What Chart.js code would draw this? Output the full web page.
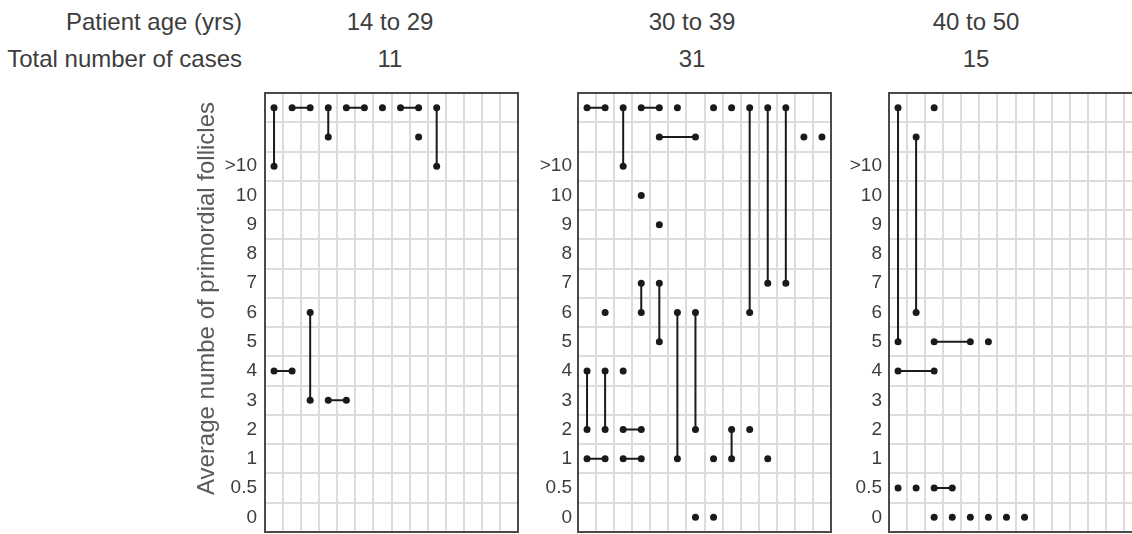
<!DOCTYPE html>
<html>
<head>
<meta charset="utf-8">
<script src="https://cdn.jsdelivr.net/npm/chart.js@4.4.1/dist/chart.umd.min.js"></script>
<style>
    html, body { margin: 0; padding: 0; background: #fff; overflow: hidden; }
    body { width: 1132px; height: 534px; position: relative; font-family: 'Liberation Sans', Arial, Helvetica, sans-serif; color: #3d3d3d; }
    .hdr { position: absolute; font-size: 24px; line-height: 26px; white-space: nowrap; }
    .lbl { right: 890px; text-align: right; }
    .val { width: 200px; margin-left: -100px; text-align: center; }
    canvas { position: absolute; }
</style>
</head>
<body>
<div class="hdr lbl" style="top:9px">Patient age (yrs)</div>
<div class="hdr lbl" style="top:46px">Total number of cases</div>
<div id="ages"></div>
<canvas id="panel0" width="342" height="472" style="left:180px; top:64px"></canvas>
<canvas id="panel1" width="307" height="472" style="left:528px; top:64px"></canvas>
<canvas id="panel2" width="307" height="472" style="left:839px; top:64px"></canvas>
<script>
    // Baris sumbu y (dua baris teratas tanpa label)
    const rowLabels = ['0', '0.5', '1', '2', '3', '4', '5', '6', '7', '8', '9', '10', '>10', '', ''];
    const ageGroups = ['14 to 29', '30 to 39', '40 to 50'];
    const caseTotals = [11, 31, 15];
    const headerCenters = [390, 692, 976];

    // Tiap kasus: [kolom awal, baris awal, kolom akhir, baris akhir]
    const casesYoung = [
        [1, 14, 1, 12], [2, 14, 3, 14], [4, 14, 4, 13], [5, 14, 6, 14], [7, 14, 7, 14],
        [8, 14, 9, 14], [10, 14, 10, 12], [9, 13, 9, 13], [1, 5, 2, 5], [3, 7, 3, 4], [4, 4, 5, 4]
    ];
    const casesMiddle = [
        [1, 14, 2, 14], [3, 14, 3, 12], [4, 14, 5, 14], [6, 14, 6, 14], [8, 14, 8, 14],
        [9, 14, 9, 14], [10, 14, 10, 7], [11, 14, 11, 8], [12, 14, 12, 8], [5, 13, 7, 13],
        [13, 13, 13, 13], [14, 13, 14, 13], [4, 11, 4, 11], [5, 10, 5, 10], [4, 8, 4, 7],
        [5, 8, 5, 6], [2, 7, 2, 7], [6, 7, 6, 2], [7, 7, 7, 3], [1, 5, 1, 3], [2, 5, 2, 3],
        [3, 5, 3, 5], [3, 3, 4, 3], [9, 3, 9, 2], [10, 3, 10, 3], [1, 2, 2, 2], [3, 2, 4, 2],
        [8, 2, 8, 2], [11, 2, 11, 2], [7, 0, 7, 0], [8, 0, 8, 0]
    ];
    const casesOld = [
        [1, 14, 1, 6], [2, 13, 2, 7], [3, 14, 3, 14], [3, 6, 5, 6], [6, 6, 6, 6], [1, 5, 3, 5],
        [1, 1, 1, 1], [2, 1, 2, 1], [3, 1, 4, 1], [3, 0, 3, 0], [4, 0, 4, 0], [5, 0, 5, 0],
        [6, 0, 6, 0], [7, 0, 7, 0], [8, 0, 8, 0]
    ];
    const columnCount = 14;

    const panelCases = [casesYoung, casesMiddle, casesOld];
    const tickPadding = [8, 6, 7];

    // Judul kolom di atas panel
    const ages = document.getElementById('ages');
    ageGroups.forEach((g, i) => {
        ages.insertAdjacentHTML('beforeend',
            `<div class="hdr val" style="top:9px; left:${headerCenters[i]}px">${g}</div>` +
            `<div class="hdr val" style="top:46px; left:${headerCenters[i]}px">${caseTotals[i]}</div>`);
    });

    // Ubah segmen jadi titik, dipisah null agar garis terputus
    function toPoints(segs) {
        const pts = [];
        segs.forEach(s => {
            pts.push({ x: s[0], y: s[1] });
            if (s[0] !== s[2] || s[1] !== s[3]) pts.push({ x: s[2], y: s[3] });
            pts.push({ x: null, y: null });
        });
        return pts;
    }

    // Bingkai gelap di sekeliling area plot
    const framePlugin = {
        id: 'frame',
        beforeDatasetsDraw(chart) {
            const { ctx, chartArea: a } = chart;
            ctx.save();
            ctx.strokeStyle = '#4a4a4a';
            ctx.lineWidth = 2;
            ctx.strokeRect(a.left, a.top, a.right - a.left, a.bottom - a.top);
            ctx.restore();
        }
    };

    const fontFamily = "'Liberation Sans', Arial, Helvetica, sans-serif";

    panelCases.forEach((segs, p) => {
        const ctx = document.getElementById('panel' + p).getContext('2d');
        new Chart(ctx, {
            type: 'scatter',
            data: {
                datasets: [{
                    data: toPoints(segs),
                    showLine: true,
                    spanGaps: false,
                    borderColor: '#1a1a1a',
                    borderWidth: 2,
                    pointRadius: 3.5,
                    pointBorderWidth: 0,
                    pointBackgroundColor: '#1a1a1a'
                }]
            },
            options: {
                responsive: false,
                animation: false,
                layout: { padding: { top: 0, right: 3, bottom: 3, left: 0 } },
                plugins: {
                    legend: { display: false },
                    tooltip: { enabled: false },
                    title: {
                        display: p === 0,
                        position: 'left',
                        text: 'Average numbe of primordial follicles',
                        color: '#5a5a5a',
                        font: { family: fontFamily, size: 24, weight: 'normal' },
                        padding: { top: 12.6, bottom: 0 }
                    }
                },
                scales: {
                    x: {
                        type: 'linear',
                        position: 'top',
                        min: 0.5,
                        max: columnCount + 0.5,
                        afterBuildTicks: (axis) => {
                            axis.ticks = Array.from({ length: columnCount }, (_, i) => ({ value: i + 1 }));
                        },
                        afterFit: (axis) => {
                            axis.height = 29;
                            axis.paddingLeft = 0;
                            axis.paddingRight = 0;
                        },
                        ticks: { display: false },
                        border: { display: false },
                        grid: { offset: true, color: '#dcdcdc', lineWidth: 2, drawTicks: false }
                    },
                    y: {
                        type: 'linear',
                        min: -0.5,
                        max: rowLabels.length - 0.5,
                        afterBuildTicks: (axis) => {
                            axis.ticks = rowLabels.map((_, i) => ({ value: i }));
                        },
                        afterFit: (axis) => {
                            axis.width = p === 0 ? 43.6 : 50;
                            axis.paddingTop = 0;
                            axis.paddingBottom = 0;
                        },
                        ticks: {
                            padding: tickPadding[p],
                            color: '#3d3d3d',
                            font: { family: fontFamily, size: 19 },
                            callback: (v) => rowLabels[v]
                        },
                        border: { display: false },
                        grid: { offset: true, color: '#dcdcdc', lineWidth: 2, drawTicks: false }
                    }
                }
            },
            plugins: [framePlugin]
        });
    });
</script>
</body>
</html>
